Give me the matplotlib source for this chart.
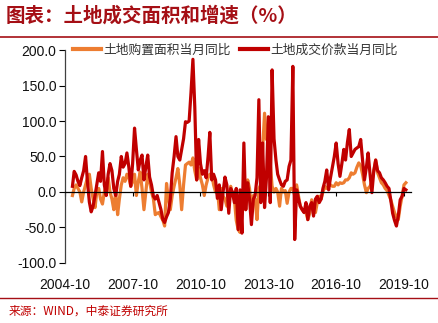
import numpy as np
import pandas as pd
import matplotlib
matplotlib.use("Agg")
import matplotlib.pyplot as plt
import matplotlib.dates as mdates
from matplotlib.lines import Line2D

plt.rcParams['font.family'] = ['Liberation Sans', 'Noto Sans CJK SC', 'DejaVu Sans']

# monthly YoY growth, 2005-02 .. 2019-11 (%)
months = pd.date_range("2005-02-01", periods=178, freq="MS")

area_yoy = [
    -5, 5, 10, 5, 0, -14, 0, 10, 20, 25, 5,
    -10, -22, 0, 5, -10, -17, 0, 10, 20, 0, -10, -25,
    0, -32, -10, 10, 20, 15, 25, 20, 8, 15, 25, -5,
    15, 28, 5, -25, 0, 25, 15, 0, -10, -32, -30, -29,
    -35, -40, -48, 12, -10, -25, -5, 8, 20, 33, 10, -25,
    10, 38, 40, 42, 38, 48, 30, 17, 34, 20, 10, -5,
    10, 20, 25, 25, 10, 0, 5, -25, 5, -6, -10, -20,
    -10, 8, -5, -11, -40, -53, -57, -20, 0, -25, 17, 5,
    -22, -5, -10, -39, 5, 10, 60, 111, 74, 92, 40, 8,
    0, 5, 0, -20, 5, 0, 2, -16, 0, 5, 5, -5,
    10, -6, -20, -25, -28, -29, -39, -30, -11, -20, -29, -15,
    -6, -10, 0, 8, 5, 8, 10, 8, 8, 13, 10, 13,
    12, 13, 17, 17, 20, 27, 25, 27, 35, 41, 37, 25,
    10, -1, 5, 8, 15, 30, 45, 27, 20, 13, 10, 5,
    2, -5, -11, -20, -29, -35, -39, -20, -6, 10, 13,
]

value_yoy = [
    8, 29, 24, 15, 9, 20, 30, 50, 15, -14, -28,
    -20, -5, 10, 27, 15, 57, 10, -5, 25, 40, 30, 5,
    -5, 15, 25, 50, 35, 40, 55, 35, 8, 40, 90, 60,
    31, 45, 52, 17, 35, 52, 21, 10, -6, -10, -5, -15,
    -25, -39, -43, -35, -29, -10, 27, 50, 78, 50, 45, 60,
    75, 99, 98, 100, 140, 187, 120, 17, 74, 40, 25, 30,
    20, 50, 84, 17, 25, 17, -9, 10, -25, 0, 21, 10,
    -30, 5, 0, -15, 5, -53, 3, -58, 69, -25, 13, -10,
    -46, -10, -5, 20, 130, -15, 69, -22, 20, 106, -15, 172,
    75, 45, 25, 17, 10, 8, 15, 17, 36, 45, 177, -67,
    3, -10, -20, -25, -29, -15, -39, -20, -15, -34, -10, -6,
    -15, -10, 5, 15, 31, 3, 20, 35, 50, 69, 40, 22,
    40, 60, 45, 70, 88, 50, 55, 60, 62, 64, 74, 45,
    17, 35, 55, 25, -1, 30, 45, 30, 27, 20, 17, 13,
    8, 5, -11, -30, -40, -48, -34, -11, -6, 5, 3,
]

tick_dates = pd.to_datetime(["2004-10-01", "2007-10-01", "2010-10-01",
                             "2013-10-01", "2016-10-01", "2019-10-01"])
tick_labels = ["2004-10", "2007-10", "2010-10", "2013-10", "2016-10", "2019-10"]
y_ticks = [-100, -50, 0, 50, 100, 150, 200]

c_area = "#ED7D31"
c_value = "#C00000"
c_brand = "#A50F15"

fig = plt.figure(figsize=(4.38, 3.23), dpi=100)
ax = fig.add_axes([0.148, 0.186, 0.79, 0.659])

ax.plot(months, area_yoy, color=c_area, lw=2.3, solid_joinstyle="round")
ax.plot(months, value_yoy, color=c_value, lw=2.3, solid_joinstyle="round")

ax.set_ylim(-100, 200)
ax.set_xlim(pd.Timestamp("2004-10-01"), pd.Timestamp("2020-01-20"))
ax.set_yticks(y_ticks)
ax.set_yticklabels([f"{v:.1f}" for v in y_ticks], fontsize=10, color="#111111")

# x axis sits on the zero line, labels pushed to the bottom
ax.spines["bottom"].set_position(("data", 0))
ax.spines["bottom"].set_color("black")
ax.spines["bottom"].set_linewidth(0.9)
ax.spines["top"].set_visible(False)
ax.spines["right"].set_visible(False)
ax.spines["left"].set_color("#404040")
ax.spines["left"].set_linewidth(0.9)
ax.set_xticks(tick_dates)
ax.set_xticklabels(tick_labels, fontsize=10, color="#111111")
ax.tick_params(axis="x", direction="out", length=3, width=0.8, pad=59)
ax.tick_params(axis="y", direction="out", length=4, width=0.8, pad=2)

handles = [Line2D([], [], color=c_area, lw=3), Line2D([], [], color=c_value, lw=3)]
fig.legend(handles, ["土地购置面积当月同比", "土地成交价款当月同比"],
           loc="center left", bbox_to_anchor=(0.14, 0.845), ncol=2, frameon=False,
           handlelength=2.2, handletextpad=0.2, columnspacing=0.7,
           prop={"family": ["Noto Sans CJK SC"], "size": 9.2})
for t in fig.legends[0].get_texts():
    t.set_color("#333333")

# header / footer
fig.text(0.012, 0.95, "图表：土地成交面积和增速（%）", fontsize=14, fontweight="bold",
         color=c_brand, family=["Noto Sans CJK SC"], va="center", ha="left")
fig.add_artist(Line2D([0, 1], [0.884, 0.884], color=c_brand, lw=1.2))
fig.add_artist(Line2D([0, 1], [0.077, 0.077], color=c_brand, lw=1.0))
fig.text(0.02, 0.038, "来源：WIND，中泰证券研究所", fontsize=8.5, color=c_value,
         family=["Noto Sans CJK SC"], va="center", ha="left")

fig.savefig("out.png", dpi=100, facecolor="white")
